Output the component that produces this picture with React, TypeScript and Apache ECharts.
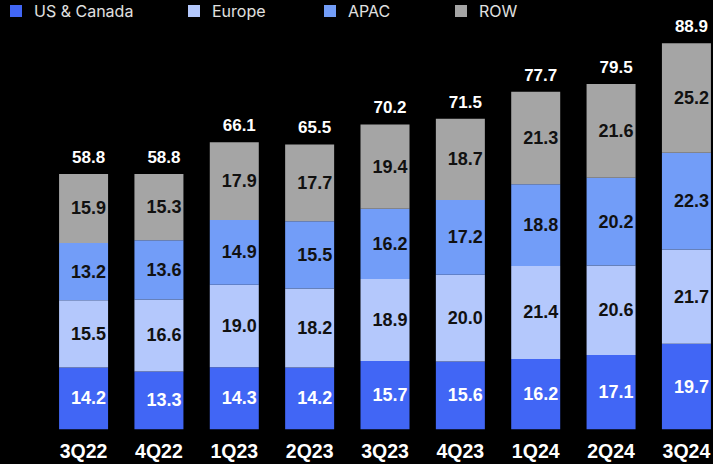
import React, { useEffect, useRef } from "react";
import * as echarts from "echarts";

const categories = ["3Q22", "4Q22", "1Q23", "2Q23", "3Q23", "4Q23", "1Q24", "2Q24", "3Q24"];
const usCanada = [14.2, 13.3, 14.3, 14.2, 15.7, 15.6, 16.2, 17.1, 19.7];
const europe = [15.5, 16.6, 19.0, 18.2, 18.9, 20.0, 21.4, 20.6, 21.7];
const apac = [13.2, 13.6, 14.9, 15.5, 16.2, 17.2, 18.8, 20.2, 22.3];
const row = [15.9, 15.3, 17.9, 17.7, 19.4, 18.7, 21.3, 21.6, 25.2];
const totals = [58.8, 58.8, 66.1, 65.5, 70.2, 71.5, 77.7, 79.5, 88.9];

const seriesNames = ["US & Canada", "Europe", "APAC", "ROW"];
const colors = ["#4166F5", "#B4C8FC", "#729DF8", "#A5A5A5"];
const legendLefts = [10, 188, 324, 455];

export default function App() {
  const ref = useRef<HTMLDivElement>(null);
  useEffect(() => {
    if (!ref.current) return;
    const chart = echarts.init(ref.current, undefined, { renderer: "svg" });
    const font = "'Liberation Sans', Arial, sans-serif";
    const values = [usCanada, europe, apac, row];
    const labelColors = ["#ffffff", "#111111", "#111111", "#111111"];
    const series: any[] = values.map((d, i) => ({
      name: seriesNames[i],
      type: "bar",
      stack: "total",
      barWidth: 49,
      data: d,
      itemStyle: { color: colors[i] },
      label: {
        show: true,
        position: "inside",
        offset: [5, 0],
        color: labelColors[i],
        fontFamily: font,
        fontWeight: "bold",
        fontSize: 18,
        formatter: (p: any) => Number(p.value).toFixed(1),
      },
    }));
    series.push({
      name: "Total",
      type: "bar",
      stack: "total",
      barWidth: 49,
      data: totals.map(() => 0),
      itemStyle: { color: "transparent" },
      label: {
        show: true,
        position: "top",
        distance: 8,
        offset: [5, 0],
        color: "#ffffff",
        fontFamily: font,
        fontWeight: "bold",
        fontSize: 17,
        formatter: (p: any) => totals[p.dataIndex].toFixed(1),
      },
    });
    chart.setOption({
      animation: false,
      backgroundColor: "#000000",
      legend: seriesNames.map((n, i) => ({
        data: [n],
        left: legendLefts[i],
        top: 3,
        padding: 0,
        icon: "rect",
        itemWidth: 12,
        itemHeight: 12,
        selectedMode: false,
        textStyle: {
          color: "#e0e0e0",
          fontFamily: "Inter, sans-serif",
          fontSize: 16,
          padding: [0, 0, 0, 7],
        },
      })),
      grid: {
        left: 45.9,
        width: 678.2,
        top: 38.4,
        bottom: 34.7,
        containLabel: false,
        outerBoundsMode: "none",
      },
      xAxis: {
        type: "category",
        data: categories,
        axisLine: { show: false },
        axisTick: { show: false },
        axisLabel: {
          color: "#ffffff",
          fontFamily: font,
          fontWeight: "bold",
          fontSize: 19.5,
          margin: 12,
          interval: 0,
        },
      },
      yAxis: {
        type: "value",
        min: 0,
        max: 90,
        show: false,
        splitLine: { show: false },
      },
      series,
    });
    return () => chart.dispose();
  }, []);
  return (
    <div
      ref={ref}
      style={{ position: "fixed", left: 0, top: 0, width: 713, height: 464, background: "#000" }}
    />
  );
}
